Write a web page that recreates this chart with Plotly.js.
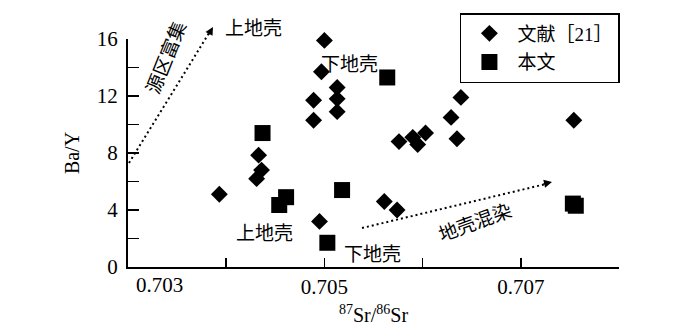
<!DOCTYPE html>
<html>
<head>
<meta charset="utf-8">
<script src="https://cdn.plot.ly/plotly-3.0.1.min.js"></script>
<style>
  html, body { margin: 0; padding: 0; background: #fff; }
  #chart { width: 700px; height: 334px; }
</style>
</head>
<body>
<div id="chart"></div>
<script>
// 文献[21] points (diamonds)
const refSr = [0.70393, 0.70433, 0.70436, 0.70431, 0.70495, 0.70500, 0.70497, 0.70513, 0.70513,
    0.70513, 0.70489, 0.70489, 0.70639, 0.70629, 0.70635, 0.70576, 0.70590, 0.70603, 0.70595,
    0.70561, 0.70574, 0.70754];
const refBaY = [5.1, 7.85, 6.8, 6.2, 3.2, 15.9, 13.7, 12.6, 11.8, 10.9, 11.7, 10.3, 11.9, 10.5,
    9.0, 8.8, 9.1, 9.4, 8.6, 4.6, 4.0, 10.3];

// 本文 points (squares)
const thisSr = [0.70437, 0.70461, 0.70454, 0.70503, 0.70518, 0.70564, 0.70753, 0.70756];
const thisBaY = [9.4, 4.9, 4.35, 1.7, 5.4, 13.3, 4.45, 4.3];

const xTickVals = [0.704, 0.705, 0.706, 0.707, 0.708];
const xTickText = ['', '0.705', '', '0.707', ''];
const yTickVals = [0, 2, 4, 6, 8, 10, 12, 14, 16];
const yTickText = ['0', '', '4', '', '8', '', '12', '', '16'];

const serif = 'Liberation Serif, Times New Roman, Noto Sans CJK SC, serif';
const cjk = 'Liberation Serif, Noto Sans CJK SC, sans-serif';

const traces = [
    {
        x: refSr, y: refBaY,
        type: 'scatter', mode: 'markers',
        name: '文献［21］',
        legendgroup: 'a',
        marker: { symbol: 'diamond', size: 13, color: '#000' },
        cliponaxis: false
    },
    {
        x: thisSr, y: thisBaY,
        type: 'scatter', mode: 'markers',
        name: '本文',
        legendgroup: 'b',
        marker: { symbol: 'square', size: 16, color: '#000' },
        cliponaxis: false
    }
];

const txt = (text, x, y, angle) => ({
    text: text, x: x, y: y, xref: 'paper', yref: 'paper',
    xanchor: 'center', yanchor: 'middle',
    showarrow: false, textangle: angle || 0,
    font: { family: cjk, size: 19, color: '#000' }
});
const head = (x, y, ax, ay) => ({
    text: '', x: x, y: y, xref: 'paper', yref: 'paper',
    showarrow: true, arrowhead: 2, arrowsize: 1, arrowwidth: 1.6,
    arrowcolor: '#000', ax: ax, ay: ay, standoff: 0
});

const layout = {
    width: 700,
    height: 334,
    margin: { l: 128, r: 81, t: 39, b: 67 },
    paper_bgcolor: '#fff',
    plot_bgcolor: '#fff',
    font: { family: serif, size: 21, color: '#000' },
    xaxis: {
        range: [0.703, 0.708],
        tickvals: xTickVals,
        ticktext: xTickText,
        ticks: 'inside', ticklen: 9, tickwidth: 1.5, tickcolor: '#000',
        showline: true, linewidth: 2, linecolor: '#000',
        showgrid: false, zeroline: false,
        title: { text: '<sup>87</sup>Sr/<sup>86</sup>Sr', font: { family: serif, size: 20 }, standoff: 10 }
    },
    yaxis: {
        range: [0, 16],
        tickvals: yTickVals,
        ticktext: yTickText,
        ticks: 'inside', ticklen: 11, tickwidth: 1.5, tickcolor: '#000',
        showline: true, linewidth: 2, linecolor: '#000',
        showgrid: false, zeroline: false,
        ticklabelstandoff: 4,
        title: { text: 'Ba/Y', font: { family: serif, size: 20 }, standoff: 12 }
    },
    showlegend: true,
    legend: {
        x: 0.676, y: 1.114, xanchor: 'left', yanchor: 'top',
        bordercolor: '#000', borderwidth: 1.5, bgcolor: '#fff',
        font: { family: cjk, size: 19, color: '#000' },
        tracegroupgap: 1,
        itemwidth: 46
    },
    shapes: [
        { type: 'line', xref: 'paper', yref: 'paper', x0: 0.002, y0: 0.456, x1: 0.165, y1: 1.026,
          line: { color: '#000', width: 2, dash: '2px,3px' } },
        { type: 'line', xref: 'paper', yref: 'paper', x0: 0.4766, y0: 0.171, x1: 0.851, y1: 0.364,
          line: { color: '#000', width: 2, dash: '2px,3px' } }
    ],
    annotations: [
        txt('上地壳', 0.2566, 1.048),
        txt('源区富集', 0.079, 0.917, -68),
        txt('下地壳', 0.452, 0.89),
        txt('上地壳', 0.277, 0.145),
        txt('下地壳', 0.497, 0.057),
        txt('地壳混染', 0.707, 0.197, -20),
        head(0.173, 1.053, -5, 9),
        head(0.8635, 0.373, -10, 2.3),
        { text: '0.703', x: 0.065, y: -0.079, xref: 'paper', yref: 'paper', showarrow: false,
          xanchor: 'center', yanchor: 'middle',
          font: { family: serif, size: 21, color: '#000' } }
    ]
};

Plotly.newPlot('chart', traces, layout, { displayModeBar: false, staticPlot: true });
</script>
</body>
</html>
